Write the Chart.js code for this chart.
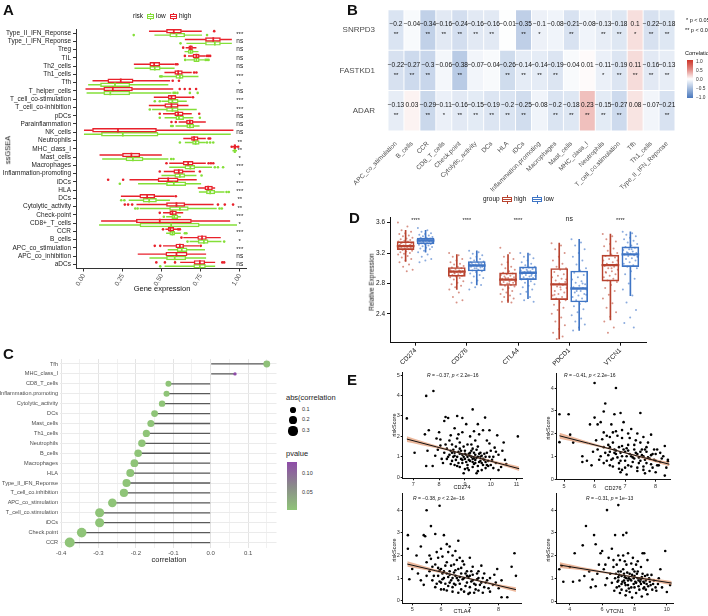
<!DOCTYPE html>
<html><head><meta charset="utf-8">
<script src="https://cdn.jsdelivr.net/npm/chart.js@4.4.1/dist/chart.umd.min.js"></script>
<style>
body{margin:0;background:#fff;width:708px;height:616px;position:relative;overflow:hidden;font-family:"Liberation Sans",Arial,sans-serif;}
canvas{position:absolute;}
.t{position:absolute;white-space:nowrap;color:#111;line-height:1;}
</style></head><body>
<script>
// ---------------- DATA ----------------
// Panel A (ssGSEA boxplots) - categories top to bottom
const aCats = ['Type_II_IFN_Reponse','Type_I_IFN_Reponse','Treg','TIL','Th2_cells','Th1_cells','Tfh','T_helper_cells','T_cell_co-stimulation','T_cell_co-inhibition','pDCs','Parainflammation','NK_cells','Neutrophils','MHC_class_I','Mast_cells','Macrophages','Inflammation-promoting','iDCs','HLA','DCs','Cytolytic_activity','Check-point','CD8+_T_cells','CCR','B_cells','APC_co_stimulation','APC_co_inhibition','aDCs'];
const aHiLo  = [.42,.65,.655,.67,.323,.519,.058,.013,.451,.419,.51,.61,0,.64,.955,.103,.55,.515,.295,.733,.24,.34,.51,.113,.525,.64,.51,.348,.62];
const aHiQ1  = [.53,.78,.673,.70,.423,.583,.154,.128,.541,.519,.583,.658,.056,.69,.962,.248,.637,.577,.476,.776,.359,.53,.551,.337,.541,.73,.59,.526,.707];
const aHiMed = [.577,.83,.685,.722,.451,.605,.237,.186,.562,.562,.605,.68,.219,.707,.968,.305,.669,.609,.541,.797,.406,.594,.568,.487,.555,.758,.616,.594,.744];
const aHiQ3  = [.626,.876,.697,.74,.487,.632,.316,.312,.59,.605,.637,.701,.466,.733,.975,.359,.701,.637,.605,.825,.455,.648,.594,.69,.577,.786,.64,.662,.776];
const aHiHi  = [.754,.947,.72,.78,.58,.69,.551,.571,.69,.669,.69,.78,.957,.78,.985,.498,.78,.71,.722,.84,.58,.83,.635,.936,.60,.876,.74,.782,.84];
const aHiOut = [[.836],[],[.637],[.648,.79,.80,.81],[.59,.60],[.707,.722],[.57,.61],[.615,.647,.68,.72],[.70],[],[.487,.74],[.562,.59],[],[.80,.81],[.948,.99],[],[.53,.80,.815,.83],[.487,.744],[.156,.252],[],[.59],[.263,.284,.31,.86,.904,.957],[.487],[],[.508,.605,.616],[.626],[.455,.49,.75],[],[.465,.52,.585,.888,.90]];
const aLoLo  = [.455,.66,.648,.66,.327,.51,.03,.02,.50,.44,.52,.59,0,.65,.955,.12,.55,.50,.35,.74,.29,.36,.53,.10,.53,.68,.54,.423,.52];
const aLoQ1  = [.551,.78,.669,.705,.423,.59,.107,.128,.541,.53,.59,.66,.113,.697,.962,.27,.648,.583,.53,.786,.38,.55,.564,.36,.551,.733,.598,.53,.705];
const aLoMed = [.594,.84,.685,.722,.455,.616,.20,.17,.568,.568,.61,.68,.25,.717,.968,.315,.683,.616,.577,.81,.419,.616,.58,.56,.568,.77,.628,.583,.744];
const aLoQ3  = [.647,.876,.701,.74,.49,.637,.295,.295,.605,.605,.64,.705,.476,.74,.972,.38,.712,.648,.654,.84,.466,.67,.603,.74,.583,.797,.662,.654,.78];
const aLoHi  = [.756,.947,.733,.77,.58,.733,.54,.56,.658,.722,.70,.74,.94,.78,.98,.54,.82,.72,.75,.90,.55,.85,.62,.98,.62,.88,.775,.782,.84];
const aLoOut = [[.32,.79],[.62],[],[.65,.78,.79,.80],[],[.49,.50],[],[.575,.585,.60,.68,.73],[.455,.487],[.423],[.487,.744],[.56,.57],[],[.616,.79,.81,.83],[],[.56,.575],[.84,.86,.893],[.755],[.231],[.915,.93],[.24,.26],[.33,.345,.87,.885],[.513],[],[.648,.658],[.665,.90],[],[],[.49]];
const aSig = ['***','ns','ns','ns','ns','***','*','ns','***','***','ns','ns','ns','**','**','*','***','*','***','***','**','**','***','*','***','*','***','ns','ns'];
const aTicks = [0,0.25,0.5,0.75,1];

// Panel B (correlation heatmap)
const bCols = ['APC_co_stimulation','B_cells','CCR','CD8_T_cells','Check.point','Cytolytic_activity','DCs','HLA','iDCs','Inflammation.promoting','Macrophages','Mast_cells','MHC_class_I','Neutrophils','T_cell_co.stimulation','Tfh','Th1_cells','Type_II_IFN_Reponse'];
const bRows = ['SNRPD3','FASTKD1','ADAR'];
const bSNRPD3  = [-0.2,-0.04,-0.34,-0.16,-0.24,-0.16,-0.16,-0.01,-0.35,-0.1,-0.08,-0.21,-0.08,-0.13,-0.18,0.1,-0.22,-0.18];
const bFASTKD1 = [-0.22,-0.27,-0.3,-0.06,-0.38,-0.07,-0.04,-0.26,-0.14,-0.14,-0.19,-0.04,0.01,-0.11,-0.19,0.11,-0.16,-0.13];
const bADAR    = [-0.13,0.03,-0.29,-0.11,-0.16,-0.15,-0.19,-0.2,-0.25,-0.08,-0.2,-0.18,0.23,-0.15,-0.27,0.08,-0.07,-0.21];
const bSigSNRPD3  = ['**','','**','**','**','**','**','','**','*','','**','','**','**','*','**','**'];
const bSigFASTKD1 = ['**','**','**','','**','','','**','**','**','**','','','*','**','**','**','**'];
const bSigADAR    = ['**','','**','*','**','**','**','**','**','','**','**','**','**','**','','','**'];
const bLegendTicks = [1.0,0.5,0.0,-0.5,-1.0];

// Panel C (lollipop)
const cCats = ['Tfh','MHC_class_I','CD8_T_cells','Inflammation.promoting','Cytolytic_activity','DCs','Mast_cells','Th1_cells','Neutrophils','B_cells','Macrophages','HLA','Type_II_IFN_Reponse','T_cell_co.inhibition','APC_co_stimulation','T_cell_co.stimulation','iDCs','Check.point','CCR'];
const cVals = [0.15,0.065,-0.113,-0.118,-0.13,-0.15,-0.16,-0.172,-0.184,-0.194,-0.204,-0.215,-0.225,-0.232,-0.263,-0.297,-0.297,-0.345,-0.377];
const cPval = [0.003,0.132,0,0,0,0,0,0,0,0,0,0,0,0,0,0,0,0,0];
const cTicks = [-0.4,-0.35,-0.3,-0.25,-0.2,-0.15,-0.1,-0.05,0,0.05,0.1,0.15];
const cSizeLegend = [0.1,0.2,0.3];

// Panel D (checkpoint genes)
const dGenes = ['CD274','CD276','CTLA4','PDCD1','VTCN1'];
const dHighLo  = [3.09,2.72,2.55,2.07,2.32];
const dHighQ1  = [3.245,2.893,2.773,2.587,2.831];
const dHighMed = [3.29,2.955,2.85,2.787,3.04];
const dHighQ3  = [3.35,3.01,2.938,2.996,3.173];
const dHighHi  = [3.5,3.18,3.18,3.33,3.45];
const dLowLo   = [3.21,2.78,2.6,2.18,2.64];
const dLowQ1   = [3.32,2.964,2.85,2.556,3.022];
const dLowMed  = [3.365,3.036,2.94,2.733,3.182];
const dLowQ3   = [3.396,3.089,3.018,2.964,3.28];
const dLowHi   = [3.5,3.23,3.2,3.38,3.48];
const dSig = ['****','****','****','ns','****'];
const dYTicks = [2.4,2.8,3.2,3.6];
const dHighPts = [
 [3.6,3.55,3.5,3.48,3.46,3.45,3.43,3.42,3.4,3.39,3.38,3.37,3.36,3.35,3.35,3.34,3.33,3.32,3.31,3.3,3.3,3.29,3.28,3.28,3.27,3.26,3.25,3.25,3.24,3.23,3.22,3.21,3.2,3.19,3.18,3.16,3.14,3.12,3.1,3.08,3.05,3.02,2.98,2.96,3.33,3.31,3.29,3.27],
 [3.2,3.17,3.15,3.12,3.1,3.08,3.06,3.05,3.03,3.02,3.01,3.0,2.99,2.98,2.97,2.96,2.96,2.95,2.95,2.94,2.93,2.93,2.92,2.91,2.9,2.89,2.88,2.87,2.85,2.83,2.81,2.79,2.77,2.75,2.72,2.68,2.62,2.58,2.55,2.97,2.96,2.94,2.92],
 [3.27,3.2,3.15,3.12,3.08,3.05,3.02,3.0,2.98,2.96,2.94,2.93,2.92,2.91,2.9,2.89,2.88,2.87,2.86,2.85,2.85,2.84,2.83,2.82,2.81,2.8,2.79,2.78,2.77,2.76,2.74,2.72,2.7,2.68,2.66,2.64,2.62,2.6,2.58,2.56,2.55,2.87,2.83,2.8],
 [3.33,3.3,3.25,3.2,3.15,3.1,3.06,3.02,3.0,2.98,2.95,2.92,2.9,2.88,2.86,2.84,2.82,2.8,2.79,2.78,2.76,2.74,2.72,2.7,2.68,2.66,2.64,2.62,2.6,2.58,2.55,2.52,2.48,2.45,2.4,2.35,2.3,2.25,2.2,2.15,2.1,2.07,2.85,2.75,2.65],
 [3.45,3.42,3.38,3.35,3.32,3.29,3.26,3.23,3.2,3.18,3.16,3.14,3.12,3.1,3.08,3.06,3.05,3.04,3.03,3.02,3.0,2.98,2.96,2.94,2.92,2.9,2.88,2.86,2.84,2.82,2.78,2.74,2.7,2.65,2.6,2.54,2.48,2.42,2.36,2.3,2.22,2.15,3.1,3.0,2.95]];
const dLowPts = [
 [3.53,3.5,3.48,3.46,3.45,3.44,3.43,3.42,3.41,3.4,3.4,3.39,3.38,3.38,3.37,3.37,3.36,3.36,3.35,3.35,3.34,3.34,3.33,3.33,3.32,3.32,3.31,3.3,3.29,3.28,3.27,3.26,3.25,3.23,3.21,3.18,3.15,3.12,3.1,3.08,3.36,3.35,3.34,3.38],
 [3.23,3.21,3.19,3.17,3.15,3.13,3.12,3.1,3.09,3.08,3.07,3.06,3.05,3.05,3.04,3.04,3.03,3.03,3.02,3.01,3.0,2.99,2.98,2.97,2.96,2.95,2.93,2.91,2.89,2.87,2.84,2.81,2.78,2.75,2.72,3.06,3.04,3.02,3.0,3.08],
 [3.2,3.18,3.15,3.13,3.1,3.08,3.06,3.04,3.02,3.01,3.0,2.99,2.98,2.97,2.96,2.95,2.94,2.94,2.93,2.92,2.91,2.9,2.89,2.88,2.87,2.86,2.85,2.83,2.81,2.79,2.77,2.75,2.72,2.69,2.66,2.62,2.58,2.56,2.96,2.93,2.9],
 [3.38,3.34,3.3,3.25,3.2,3.15,3.1,3.05,3.0,2.97,2.94,2.91,2.88,2.85,2.83,2.81,2.79,2.77,2.75,2.74,2.73,2.72,2.7,2.68,2.66,2.64,2.62,2.6,2.58,2.56,2.53,2.5,2.46,2.42,2.38,2.34,2.3,2.26,2.22,2.18,2.8,2.7,2.65],
 [3.48,3.46,3.44,3.42,3.4,3.38,3.36,3.34,3.32,3.3,3.28,3.27,3.25,3.24,3.22,3.21,3.2,3.19,3.18,3.17,3.16,3.15,3.13,3.12,3.1,3.08,3.06,3.04,3.02,3.0,2.96,2.92,2.86,2.8,2.72,2.64,2.55,2.45,2.35,2.28,2.22,3.2,3.15,3.25]];

// Panel E (riskScore scatter) points [x, riskScore]
const e1Pts = [[6.75,2.88],[7.5,3.98],[7.78,4.22],[9.3,3.32],[9.78,2.92],[11.05,2.0],[7.05,1.2],[7.5,0.55],[7.75,0.55],[7.45,2.1],[7.6,2.3],[7.9,1.9],[7.55,1.3],[10.5,1.7],[10.3,0.35],[10.55,0.85],[8.2,2.75],[8.35,2.9],[8.7,3.0],[8.9,2.9],[8.0,2.2],[8.1,0.9],[8.25,2.95],[9.5,2.6],[9.95,2.3],[10.15,1.45],[10.25,2.05],[7.95,1.35],[8.05,1.55],
 [8.3,1.4],[8.4,1.1],[8.5,0.8],[8.5,1.6],[8.6,1.2],[8.6,0.6],[8.7,1.9],[8.7,1.0],[8.8,0.5],[8.8,1.4],[8.9,1.1],[8.9,0.7],[8.9,2.2],[9.0,1.3],[9.0,0.9],[9.0,0.4],[9.1,1.6],[9.1,1.0],[9.1,0.6],[9.2,1.2],[9.2,0.8],[9.2,2.0],[9.3,1.4],[9.3,0.5],[9.3,0.9],[9.4,1.1],[9.4,0.7],[9.4,1.8],[9.5,1.0],[9.5,0.3],[9.5,1.5],[9.6,0.8],[9.6,1.2],[9.7,0.6],[9.7,2.3],[9.8,1.0],[9.8,0.45],[9.9,0.8],[10.0,1.3],[10.0,0.6],[10.1,1.0],[10.2,0.7],[8.2,1.2],[8.4,1.8],[8.6,2.4],[8.8,1.7],[9.05,2.6],[9.25,1.6],[9.55,2.1],[9.65,0.35],[8.15,0.7],[8.95,0.2],[9.45,0.2],[10.3,1.1],[10.4,0.5],[8.45,1.3],[8.55,1.0],[8.75,1.25],[8.85,0.9],[8.95,1.5],[9.15,1.15],[9.25,1.0],[9.35,1.2],[9.45,0.95],[9.55,0.75],[9.65,1.05],[9.75,0.85],[9.85,1.2],[9.05,0.75],[8.65,1.5],[9.35,0.65],[9.15,0.35],
 [8.35,1.0],[8.45,0.65],[8.55,1.35],[8.65,0.85],[8.75,0.7],[8.85,1.3],[8.95,1.0],[9.05,1.1],[9.15,0.85],[9.25,1.3],[9.35,0.95],[9.45,1.35],[9.55,1.15],[9.65,0.7],[9.75,1.15],[9.85,0.6],[9.95,1.0],[10.05,0.85],[8.6,1.05],[8.8,1.15],[9.0,1.15],[9.2,1.05],[9.4,0.85],[9.6,1.0],[9.8,0.75],[8.5,1.2],[8.7,0.55],[8.9,0.85],[9.1,0.45],[9.3,0.75],[9.5,0.55],[9.7,0.9],[9.9,0.55],[10.1,0.45],[10.2,1.25],[8.3,0.9],[8.25,1.6],[8.45,2.05],[8.75,2.1],[9.35,2.25],[9.95,1.65],[10.45,1.3],[10.6,0.65],[7.85,1.05],[8.05,1.85],[9.85,1.8]];
const e2Pts = [[4.85,2.85],[5.15,2.85],[4.85,1.62],[5.2,1.95],[5.3,1.6],[5.6,1.0],[5.6,0.75],[6.0,4.22],[6.7,4.0],[6.35,3.32],[6.3,2.97],[6.65,2.85],[6.85,2.9],[7.5,2.9],[6.0,2.7],[6.1,2.4],[5.85,2.4],[8.3,0.15],[8.4,0.78],[8.4,0.85],[7.85,1.95],[8.05,1.3],[7.75,1.6],[6.2,2.5],[5.75,0.8],[5.9,0.6],
 [6.2,1.0],[6.3,1.4],[6.4,0.8],[6.4,1.9],[6.5,1.2],[6.5,0.6],[6.6,1.6],[6.6,0.9],[6.7,2.1],[6.7,1.1],[6.8,0.7],[6.8,1.4],[6.9,1.0],[6.9,0.4],[6.9,1.8],[7.0,1.2],[7.0,0.8],[7.1,1.5],[7.1,0.6],[7.2,1.0],[7.2,2.2],[7.3,0.9],[7.3,1.3],[7.4,0.5],[7.4,1.1],[7.5,0.8],[7.5,1.6],[7.6,1.0],[7.6,0.4],[7.7,0.7],[7.7,1.2],[7.8,0.9],[7.9,0.5],[8.0,0.8],[8.0,1.1],[8.1,0.6],[8.2,0.9],[6.1,1.3],[6.3,0.7],[6.55,2.4],[6.75,1.9],[6.95,2.5],[7.15,1.8],[7.35,1.7],[7.55,1.3],[7.65,0.25],[6.85,0.3],[7.05,0.2],[6.45,1.5],[6.65,1.3],[6.85,1.15],[7.05,1.0],[7.25,0.75],[7.45,0.95],[7.65,0.85],[7.85,0.65],[6.25,1.75],[7.95,1.3],[8.15,1.15],[7.1,2.0],[6.6,2.05],
 [6.45,1.05],[6.55,0.85],[6.65,1.15],[6.75,0.95],[6.85,0.8],[6.95,1.3],[7.05,1.35],[7.15,1.1],[7.25,0.95],[7.35,1.15],[7.45,0.7],[7.55,1.05],[7.65,1.3],[7.75,0.95],[7.85,1.05],[7.95,0.85],[8.05,0.6],[8.15,0.75],[8.25,1.0],[6.5,1.4],[6.7,1.25],[6.9,1.45],[7.1,1.25],[7.3,1.5],[7.5,1.2],[7.7,1.4],[7.9,1.1],[6.6,0.55],[6.8,0.45],[7.0,0.5],[7.2,0.55],[7.4,0.35],[7.6,0.55],[7.8,0.35],[8.0,0.3],[6.35,1.15],[6.15,0.85],[5.95,1.2],[6.05,1.7],[6.3,2.05],[6.5,1.85],[6.9,2.15],[7.4,2.0],[7.6,1.85],[8.3,1.45],[8.35,0.5]];
const e3Pts = [[4.85,2.9],[4.85,2.3],[5.5,4.0],[5.95,4.2],[5.65,3.3],[5.4,2.9],[5.45,2.85],[5.8,2.95],[6.1,2.9],[6.6,2.65],[8.55,2.1],[8.45,1.5],[8.6,1.1],[8.3,0.15],[8.1,0.15],[4.9,0.95],[5.0,1.4],[5.3,2.4],[5.2,1.2],[5.5,1.7],[5.15,2.0],[5.6,2.0],[5.3,0.9],[6.2,2.5],[6.0,2.3],[6.3,2.4],[6.5,2.2],[7.7,0.4],[7.9,0.8],[8.0,0.55],
 [5.6,1.3],[5.7,0.9],[5.8,1.6],[5.8,0.6],[5.9,1.1],[5.9,1.9],[6.0,0.8],[6.0,1.4],[6.1,1.0],[6.1,0.5],[6.2,1.2],[6.2,1.7],[6.3,0.8],[6.3,1.3],[6.4,1.0],[6.4,0.4],[6.4,2.0],[6.5,1.1],[6.5,0.7],[6.6,1.4],[6.6,0.9],[6.7,1.2],[6.7,0.5],[6.8,1.0],[6.8,1.6],[6.9,0.8],[6.9,1.3],[7.0,0.6],[7.0,1.1],[7.1,0.9],[7.1,1.5],[7.2,0.7],[7.3,1.0],[7.3,0.45],[7.4,0.8],[7.5,1.2],[7.5,0.6],[7.6,0.9],[7.7,1.0],[7.8,0.7],[5.5,1.1],[5.4,0.7],[5.7,1.5],[6.15,1.55],[6.35,1.55],[6.55,1.8],[6.75,1.75],[6.25,0.65],[6.45,1.25],[6.65,1.05],[6.85,1.2],[7.05,0.85],[7.25,1.2],[6.05,1.2],[5.95,0.85],[7.15,0.35],[6.95,0.3],[7.45,0.35],
 [5.75,1.1],[5.85,0.75],[5.95,1.35],[6.05,0.95],[6.15,0.75],[6.25,1.05],[6.35,0.9],[6.45,0.75],[6.55,1.0],[6.65,0.75],[6.75,0.95],[6.85,0.65],[6.95,1.05],[7.05,1.3],[7.15,0.75],[7.25,0.95],[7.35,0.7],[7.45,1.0],[7.55,0.8],[7.65,0.55],[5.9,1.45],[6.1,1.3],[6.3,1.15],[6.5,1.35],[6.7,1.45],[6.9,1.1],[7.1,1.15],[7.3,1.3],[6.0,0.5],[6.2,0.45],[6.4,0.6],[6.6,0.35],[6.8,0.4],[7.0,0.35],[7.2,0.5],[5.65,1.85],[5.85,2.15],[6.05,1.95],[6.25,2.15],[6.45,1.6],[6.65,1.9],[7.0,1.9],[7.4,1.55],[7.85,1.15],[8.1,0.9],[7.95,1.4]];
const e4Pts = [[3.35,1.4],[3.6,0.85],[3.5,1.55],[4.0,1.5],[4.3,2.1],[4.2,0.85],[4.6,0.9],[5.0,3.3],[5.5,2.9],[6.3,4.0],[7.0,4.22],[6.8,2.9],[7.3,2.9],[7.5,3.0],[9.9,2.2],[4.9,1.1],[5.2,1.3],[5.3,0.6],[5.6,0.65],[5.8,1.6],[5.9,2.1],[5.6,2.5],[6.0,2.2],[6.2,0.7],[4.8,2.45],[5.4,0.95],[10.2,0.7],[10.0,0.4],[9.5,1.0],[9.7,0.6],[8.6,2.1],[8.8,1.8],[8.5,2.1],
 [6.5,1.2],[6.6,0.8],[6.7,1.5],[6.8,1.0],[6.9,0.6],[7.0,1.3],[7.0,0.9],[7.1,1.8],[7.2,1.1],[7.2,0.5],[7.3,1.4],[7.4,0.8],[7.5,1.0],[7.5,1.6],[7.6,0.7],[7.7,1.2],[7.7,0.4],[7.8,0.9],[7.9,1.4],[8.0,0.6],[8.0,1.1],[8.1,0.8],[8.2,1.3],[8.3,0.5],[8.3,1.0],[8.4,0.75],[8.5,1.2],[8.6,0.6],[8.7,0.9],[8.8,0.3],[8.9,1.0],[9.0,0.7],[9.1,0.5],[9.2,0.9],[9.3,0.6],[6.4,1.9],[6.6,2.3],[7.3,2.0],[7.6,2.1],[7.9,1.9],[8.1,1.6],[6.9,1.6],[6.3,1.0],[6.1,1.4],[7.45,0.25],[8.45,0.2],[7.85,0.15],[6.75,0.45],[7.05,1.15],[7.35,0.9],[7.65,1.0],[7.95,0.75],[8.25,0.9],[8.55,0.85],[8.85,0.65],[9.45,0.75],[9.05,1.15],
 [6.85,1.2],[6.95,0.85],[7.05,0.65],[7.15,1.3],[7.25,0.85],[7.35,1.2],[7.45,0.7],[7.55,1.25],[7.65,0.55],[7.75,0.95],[7.85,1.15],[7.95,1.0],[8.05,0.85],[8.15,1.2],[8.25,0.65],[8.35,0.85],[8.45,1.05],[8.55,0.55],[8.65,1.1],[8.75,0.75],[8.95,0.85],[9.15,0.75],[9.35,0.45],[7.0,1.05],[7.2,0.75],[7.4,1.05],[7.6,0.9],[7.8,0.6],[8.0,1.3],[8.2,1.0],[8.4,0.95],[8.6,0.8],[8.8,1.15],[7.1,0.35],[7.5,0.45],[8.1,0.35],[8.7,0.5],[6.7,1.8],[7.0,2.0],[7.4,1.75],[7.8,1.65],[8.2,1.75],[8.4,1.5],[6.2,1.6],[5.7,1.2],[9.6,1.4]];
// fitted line (x, fit, CI half-width)
const e1FitX=[6.75,7.9,9.1,10.2,11.1], e1FitY=[1.87,1.487,1.087,0.72,0.42], e1FitH=[0.14,0.07,0.035,0.06,0.11];
const e2FitX=[4.85,5.8,6.8,7.6,8.45], e2FitY=[1.9,1.57,1.223,0.945,0.65], e2FitH=[0.13,0.065,0.035,0.05,0.09];
const e3FitX=[4.83,5.8,6.6,7.6,8.6], e3FitY=[1.62,1.33,1.09,0.79,0.49], e3FitH=[0.12,0.06,0.035,0.05,0.10];
const e4FitX=[3.39,5,7,8.6,10.3], e4FitY=[1.58,1.395,1.165,0.98,0.79], e4FitH=[0.13,0.07,0.035,0.05,0.09];
const eStats = ['<i>R</i> = \u22120.37, <i>p</i> &lt; 2.2e\u221216','<i>R</i> = \u22120.41, <i>p</i> &lt; 2.2e\u221216','<i>R</i> = \u22120.38, <i>p</i> &lt; 2.2e\u221216','<i>R</i> = \u22120.31, <i>p</i> = 1e\u221213'];
const eGenes = ['CD274','CD276','CTLA4','VTCN1'];

// ---------------- HELPERS ----------------
const FONT = '"Liberation Sans", Arial, sans-serif';
Chart.defaults.font.family = FONT;
Chart.defaults.animation = false;
Chart.defaults.responsive = false;
Chart.defaults.devicePixelRatio = 1;
Chart.defaults.plugins.legend.display = false;
Chart.defaults.plugins.tooltip.enabled = false;
Chart.defaults.color = '#333';

function mkCanvas(x,y,w,h){const c=document.createElement('canvas');c.width=w;c.height=h;c.style.left=x+'px';c.style.top=y+'px';c.style.width=w+'px';c.style.height=h+'px';document.body.appendChild(c);return c.getContext('2d');}
function T(html,x,y,o={}){const d=document.createElement('div');d.className='t';d.innerHTML=html;const s=d.style;s.left=x+'px';s.top=y+'px';s.fontSize=(o.size||7)+'px';if(o.color)s.color=o.color;if(o.bold)s.fontWeight='bold';const tx=o.align==='c'?'-50%':(o.align==='r'?'-100%':'0');s.transform='translate('+tx+',-50%)'+(o.rot?' rotate('+o.rot+'deg)':'');document.body.appendChild(d);return d;}
function boxIcon(x,y,w,h,color){const d=document.createElement('div');d.style.cssText='position:absolute;left:'+x+'px;top:'+y+'px;width:'+w+'px;height:'+h+'px;';const wh=Math.round(h*0.2);d.innerHTML='<div style="position:absolute;left:0;right:0;top:'+wh+'px;bottom:'+wh+'px;border:1px solid '+color+';box-sizing:border-box"></div><div style="position:absolute;left:0;right:0;top:'+(h/2-0.5)+'px;height:1px;background:'+color+'"></div><div style="position:absolute;left:'+(w/2-0.5)+'px;width:1px;top:0;height:'+wh+'px;background:'+color+'"></div><div style="position:absolute;left:'+(w/2-0.5)+'px;width:1px;bottom:0;height:'+wh+'px;background:'+color+'"></div>';document.body.appendChild(d);}
// box plot = floating bars on a linear index axis (positions = category index +/- dodge)
function boxSets(color,pos,lo,q1,med,q3,hi,o){
  const ia=o.ia, va=ia==='x'?'y':'x';
  const mk=(p,r)=>({[ia]:p,[va]:r});
  const base={type:'bar',grouped:false,barPercentage:1,categoryPercentage:1,[ia+'AxisID']:o.axis};
  return [
    {...base,order:1,data:med.map((m,i)=>mk(pos[i],[m-o.mh,m+o.mh])),backgroundColor:color,borderWidth:0,barThickness:o.bt},
    {...base,order:2,data:q1.map((a,i)=>mk(pos[i],[a,q3[i]])),backgroundColor:'rgba(255,255,255,0)',borderColor:color,borderWidth:o.bw,borderSkipped:false,barThickness:o.bt},
    {...base,order:3,data:lo.map((a,i)=>mk(pos[i],[a,q1[i]])),backgroundColor:color,borderWidth:0,barThickness:o.wt},
    {...base,order:3,data:q3.map((a,i)=>mk(pos[i],[a,hi[i]])),backgroundColor:color,borderWidth:0,barThickness:o.wt}
  ];
}
function mix(a,b,t){return [0,1,2].map(k=>Math.round(a[k]+(b[k]-a[k])*t));}
function corrColor(v){const t=Math.min(1,Math.abs(v));const w=[255,255,255];const c=v<0?mix(w,[62,112,184],t*0.95):mix(w,[205,52,40],Math.pow(t,0.8));return 'rgb('+c.join(',')+')';}
function fmtCorr(v){return v<0?'\u2212'+String(Math.abs(v)):String(v);}

// ---------------- PANEL A ----------------
(function(){
  const W=262,H=300;
  const ctx=mkCanvas(0,0,W,H);
  const RED='#e8212b',GRN='#84df38';
  const off=0.24;
  const posH=aCats.map((c,i)=>i-off), posL=aCats.map((c,i)=>i+off);
  const o={ia:'y',axis:'yl',bt:3.8,wt:0.8,mh:0.0035,bw:0.8};
  const ds=[...boxSets(RED,posH,aHiLo,aHiQ1,aHiMed,aHiQ3,aHiHi,o),...boxSets(GRN,posL,aLoLo,aLoQ1,aLoMed,aLoQ3,aLoHi,o),
    {type:'scatter',yAxisID:'yl',order:0,data:aHiOut.flatMap((arr,i)=>arr.map(v=>({x:v,y:posH[i]}))),pointRadius:1.3,backgroundColor:RED,borderWidth:0},
    {type:'scatter',yAxisID:'yl',order:0,data:aLoOut.flatMap((arr,i)=>arr.map(v=>({x:v,y:posL[i]}))),pointRadius:1.3,backgroundColor:GRN,borderWidth:0}];
  new Chart(ctx,{type:'bar',data:{labels:aCats,datasets:ds},
    options:{indexAxis:'y',layout:{padding:{top:29,right:W-246.8,left:0,bottom:0}},
      scales:{
        x:{type:'linear',min:-0.05,max:1.045,afterBuildTicks:s=>{s.ticks=aTicks.map(v=>({value:v}));},afterFit:s=>{s.height=H-268.5;},
           ticks:{callback:v=>v.toFixed(2),minRotation:60,maxRotation:60,font:{size:6.5},color:'#4d4d4d',padding:1,autoSkip:false},
           grid:{drawOnChartArea:false,tickLength:3,color:'#333'},border:{color:'#333',width:1}},
        y:{type:'category',offset:true,afterFit:s=>{s.width=76;},ticks:{font:{size:6.5},color:'#1a1a1a',autoSkip:false,padding:2},
           grid:{drawOnChartArea:false,offset:false,tickLength:3,color:'#333'},border:{color:'#333',width:1}},
        yl:{type:'linear',display:false,offset:false,min:-0.5,max:28.5,reverse:true}
      }},
    plugins:[{id:'sigA',afterDatasetsDraw(chart){const {ctx,scales:{x,y}}=chart;ctx.save();ctx.fillStyle='#222';ctx.textAlign='center';ctx.textBaseline='middle';
      aSig.forEach((s,i)=>{ctx.font=(s==='ns'?'6.5px ':'6px ')+FONT;ctx.fillText(s,x.getPixelForValue(1.0),y.getPixelForValue(i)+(s==='ns'?0:1.5));});ctx.restore();}}]
  });
  T('A',3,9,{size:15,bold:true});
  T('risk',133,16,{size:6.5});
  boxIcon(147,13,7,7,GRN); T('low',156,16,{size:6.5});
  boxIcon(170,13,7,7,RED); T('high',179,16,{size:6.5});
  T('ssGSEA',8,150,{size:7.5,align:'c',rot:-90});
  T('Gene expression',162,289,{size:7.5,align:'c'});
})();

// ---------------- PANEL B ----------------
(function(){
  const W=357,H=192;
  const ctx=mkCanvas(330,0,W,H);
  const vals=[bSNRPD3,bFASTKD1,bADAR], sig=[bSigSNRPD3,bSigFASTKD1,bSigADAR];
  const ds=vals.map((row,r)=>({data:bCols.map(()=>[2-r+0.012,3-r-0.012]),backgroundColor:row.map(corrColor),borderWidth:0,grouped:false,barPercentage:0.94,categoryPercentage:1}));
  new Chart(ctx,{type:'bar',data:{labels:bCols,datasets:ds},
    options:{layout:{padding:{top:1,right:W-345,left:0,bottom:0}},
      scales:{
        x:{type:'category',offset:true,afterFit:s=>{s.height=H-131;},ticks:{minRotation:45,maxRotation:45,font:{size:6.5},color:'#4d4d4d',autoSkip:false,padding:1},grid:{display:false},border:{display:false}},
        y:{type:'linear',min:0,max:3,afterBuildTicks:s=>{s.ticks=[0.5,1.5,2.5].map(v=>({value:v}));},afterFit:s=>{s.width=58;},
           ticks:{callback:v=>bRows[2-Math.floor(v)],font:{size:8},color:'#4d4d4d',padding:5},grid:{display:false},border:{display:false}}
      }},
    plugins:[{id:'cellText',afterDatasetsDraw(chart){const {ctx,scales:{x,y}}=chart;ctx.save();ctx.fillStyle='#111';ctx.textAlign='center';ctx.textBaseline='middle';
      vals.forEach((row,r)=>{const yc=y.getPixelForValue(2.5-r);row.forEach((v,c)=>{const xc=x.getPixelForValue(c);ctx.font='6.5px '+FONT;ctx.fillText(fmtCorr(v),xc,yc-5.5);ctx.font='6px '+FONT;ctx.fillText(sig[r][c],xc,yc+4.5);});});ctx.restore();}}]
  });
  T('B',347,9,{size:15,bold:true});
  T('* p &lt; 0.05',686,21,{size:5.5});
  T('** p &lt; 0.01',685,31,{size:5.5});
  T('Correlation',685,54,{size:5.5});
  const bar=document.createElement('div');
  bar.style.cssText='position:absolute;left:687px;top:60px;width:6px;height:38px;background:linear-gradient(to bottom,'+bLegendTicks.map(corrColor).join(',')+');';
  document.body.appendChild(bar);
  bLegendTicks.forEach((v,i)=>T(v<0?'\u2212'+Math.abs(v).toFixed(1):v.toFixed(1),696,62.3+i*8.85,{size:4.8,color:'#333'}));
})();

// ---------------- PANEL C ----------------
(function(){
  const W=282,H=222;
  const ctx=mkCanvas(0,340,W,H);
  const abs=cVals.map(Math.abs), mn=Math.min(...abs), mx=Math.max(...abs);
  const rad=a=>1.7+3.3*Math.sqrt(Math.max(0,(a-mn)/(mx-mn)));
  const pmax=Math.max(...cPval);
  const pcol=p=>{const t=p/pmax;const g=[143,196,120],m=[138,138,138],pu=[142,76,168];const c=t<0.5?mix(g,m,t*2):mix(m,pu,(t-0.5)*2);return 'rgb('+c.join(',')+')';};
  new Chart(ctx,{type:'bar',data:{labels:cCats,datasets:[
      {type:'bar',order:1,data:cVals.map(v=>[0,v]),backgroundColor:'#5a5a5a',borderWidth:0,barPercentage:0.13,categoryPercentage:1},
      {type:'line',order:0,data:cVals,showLine:false,pointRadius:c=>rad(abs[c.dataIndex]),pointBackgroundColor:c=>pcol(cPval[c.dataIndex]),pointBorderWidth:0,pointHoverRadius:0}
    ]},
    options:{indexAxis:'y',layout:{padding:{top:19,right:W-276.5,left:0,bottom:0}},
      scales:{
        x:{type:'linear',min:-0.403,max:0.176,afterBuildTicks:s=>{s.ticks=cTicks.map(v=>({value:v}));},afterFit:s=>{s.height=H-207.5;},
           ticks:{autoSkip:false,maxRotation:0,font:{size:6},color:'#4d4d4d',padding:2,callback:v=>{const r=Math.round(v*10);if(Math.abs(r-v*10)>1e-6)return '';return r===0?'0.0':(r/10).toFixed(1);}},
           grid:{drawTicks:false,color:c=>{const v=c.tick?c.tick.value:0;return Math.abs(Math.round(v*10)-v*10)<1e-6?'#e4e4e4':'#f1f1f1';},lineWidth:1},border:{display:false}},
        y:{type:'category',offset:true,afterFit:s=>{s.width=60;},ticks:{font:{size:5.6},color:'#4d4d4d',autoSkip:false,padding:2},
           grid:{offset:false,drawTicks:false,color:'#ebebeb'},border:{display:false}}
      }}
  });
  T('C',3,353,{size:15,bold:true});
  T('correlation',169,560,{size:7.5,align:'c',color:'#222'});
  T('abs(correlation',286,398,{size:7.5,color:'#222'});
  cSizeLegend.forEach((v,i)=>{const r=rad(v);const d=document.createElement('div');const cy=[410,420,431][i];d.style.cssText='position:absolute;left:'+(293-r)+'px;top:'+(cy-r)+'px;width:'+(2*r)+'px;height:'+(2*r)+'px;border-radius:50%;background:#000;';document.body.appendChild(d);T(String(v),302,cy,{size:5.5,color:'#333'});});
  T('pvalue',286,454,{size:7.5,color:'#222'});
  const bar=document.createElement('div');
  bar.style.cssText='position:absolute;left:287px;top:462px;width:10px;height:48px;background:linear-gradient(to top,'+pcol(0)+','+pcol(pmax/2)+','+pcol(pmax)+');';
  document.body.appendChild(bar);
  T('0.10',302,474,{size:5.5,color:'#333'});
  T('0.05',302,493,{size:5.5,color:'#333'});
})();

// ---------------- PANEL D ----------------
(function(){
  const W=330,H=175;
  const ctx=mkCanvas(330,200,W,H);
  const RED='#b8432f',BLU='#3f75c5';
  const dodge=0.195;
  const posH=dGenes.map((g,i)=>i-dodge), posL=dGenes.map((g,i)=>i+dodge);
  const o={ia:'x',axis:'xj',bt:17,wt:1,mh:0.011,bw:1};
  const jit=k=>(((k*0.618034)%1)-0.5)*0.3;
  const pts=(arrs,pos)=>arrs.flatMap((arr,i)=>arr.map((v,k)=>({x:pos[i]+jit(k),y:v})));
  const ds=[...boxSets(RED,posH,dHighLo,dHighQ1,dHighMed,dHighQ3,dHighHi,o),...boxSets(BLU,posL,dLowLo,dLowQ1,dLowMed,dLowQ3,dLowHi,o),
    {type:'scatter',xAxisID:'xj',order:5,data:pts(dHighPts,posH),pointRadius:1,backgroundColor:'rgba(190,75,55,0.6)',borderWidth:0},
    {type:'scatter',xAxisID:'xj',order:5,data:pts(dLowPts,posL),pointRadius:1,backgroundColor:'rgba(60,115,200,0.6)',borderWidth:0}];
  new Chart(ctx,{type:'bar',data:{labels:dGenes,datasets:ds},
    options:{layout:{padding:{top:17.3,right:W-316,left:0,bottom:0}},
      scales:{
        x:{type:'category',offset:true,afterFit:s=>{s.height=H-142.7;},ticks:{minRotation:45,maxRotation:45,font:{size:6.5},color:'#111',autoSkip:false,padding:1},
           grid:{drawOnChartArea:false,offset:false,tickLength:3,color:'#111'},border:{color:'#111',width:1}},
        xj:{type:'linear',display:false,offset:false,min:-0.5,max:4.5},
        y:{type:'linear',min:2.02,max:3.67,afterBuildTicks:s=>{s.ticks=dYTicks.map(v=>({value:v}));},afterFit:s=>{s.width=60;},
           ticks:{callback:v=>v.toFixed(1),font:{size:6.5},color:'#111',padding:2},grid:{drawOnChartArea:false,tickLength:3,color:'#111'},border:{color:'#111',width:1}}
      }},
    plugins:[{id:'sigD',afterDatasetsDraw(chart){const {ctx,scales:{x,y}}=chart;ctx.save();ctx.fillStyle='#222';ctx.textAlign='center';ctx.textBaseline='middle';
      dSig.forEach((s,i)=>{ctx.font=(s==='ns'?'7px ':'5.5px ')+FONT;ctx.fillText(s,x.getPixelForValue(i),y.getPixelForValue(3.643)+(s==='ns'?0:1.5));});ctx.restore();}}]
  });
  T('D',349,217,{size:15,bold:true});
  T('group',483,199,{size:6.5});
  boxIcon(502,195,10,9,RED); T('high',514,199,{size:6.5});
  boxIcon(532,195,10,9,BLU); T('low',544,199,{size:6.5});
  T('Relative Expression',372,282,{size:6.5,align:'c',rot:-90});
})();

// ---------------- PANEL E ----------------
function makeE(o){
  const ctx=mkCanvas(o.left,o.top,o.w,o.h);
  const a=o.area;
  new Chart(ctx,{type:'scatter',data:{datasets:[
      {data:o.fx.map((x,i)=>({x,y:o.fy[i]-o.fh[i]})),showLine:true,borderWidth:0,pointRadius:0,tension:0.35,fill:false,order:2},
      {data:o.fx.map((x,i)=>({x,y:o.fy[i]+o.fh[i]})),showLine:true,borderWidth:0,pointRadius:0,tension:0.35,fill:'-1',backgroundColor:'rgba(224,140,95,0.62)',order:2},
      {data:o.pts.map(p=>({x:p[0],y:p[1]})),pointRadius:1.3,backgroundColor:'#000',borderWidth:0,order:4},
      {data:o.fx.map((x,i)=>({x,y:o.fy[i]})),showLine:true,borderColor:'#111',borderWidth:1,pointRadius:0,order:0}
    ]},
    options:{layout:{padding:{top:a.t,right:o.w-a.r,left:0,bottom:0}},
      scales:{
        x:{type:'linear',min:o.xr[0],max:o.xr[1],afterFit:s=>{s.height=o.h-a.b;},ticks:{stepSize:o.xs,includeBounds:false,font:{size:5.5},color:'#333',padding:1,maxRotation:0},
           grid:{drawOnChartArea:false,tickLength:2,color:'#111'},border:{color:'#111',width:1}},
        y:{type:'linear',min:o.yr[0],max:o.yr[1],afterFit:s=>{s.width=a.l;},ticks:{stepSize:1,includeBounds:false,font:{size:5.5},color:'#333',padding:1},
           grid:{drawOnChartArea:false,tickLength:2,color:'#111'},border:{color:'#111',width:1}}
      }}
  });
}
makeE({left:370,top:366,w:160,h:125,area:{l:32.7,r:152,t:6,b:112.3},xr:[6.59,11.21],yr:[-0.05,5.15],xs:1,pts:e1Pts,fx:e1FitX,fy:e1FitY,fh:e1FitH});
makeE({left:524,top:366,w:160,h:125,area:{l:32.7,r:146,t:7,b:113.7},xr:[4.76,8.47],yr:[-0.03,4.66],xs:1,pts:e2Pts,fx:e2FitX,fy:e2FitY,fh:e2FitH});
makeE({left:370,top:487,w:160,h:128,area:{l:32.7,r:151.7,t:6.3,b:116.3},xr:[4.67,8.8],yr:[-0.115,4.75],xs:1,pts:e3Pts,fx:e3FitX,fy:e3FitY,fh:e3FitH});
makeE({left:524,top:487,w:160,h:128,area:{l:32.7,r:149,t:6.3,b:116.3},xr:[3.19,10.38],yr:[-0.1,4.74],xs:2,pts:e4Pts,fx:e4FitX,fy:e4FitY,fh:e4FitH});
T('E',347,379,{size:15,bold:true});
T(eStats[0],427,375,{size:5});
T(eStats[1],564,375,{size:5});
T(eStats[2],413,498,{size:5});
T(eStats[3],586,498,{size:5});
T(eGenes[0],462,488,{size:5.5,align:'c'});
T(eGenes[1],613,489,{size:5.5,align:'c'});
T(eGenes[2],462,612,{size:5.5,align:'c'});
T(eGenes[3],615,612,{size:5.5,align:'c'});
T('riskScore',395,425,{size:5.5,align:'c',rot:-90});
T('riskScore',549,428,{size:5.5,align:'c',rot:-90});
T('riskScore',395,550,{size:5.5,align:'c',rot:-90});
T('riskScore',549,550,{size:5.5,align:'c',rot:-90});
</script>
</body></html>
